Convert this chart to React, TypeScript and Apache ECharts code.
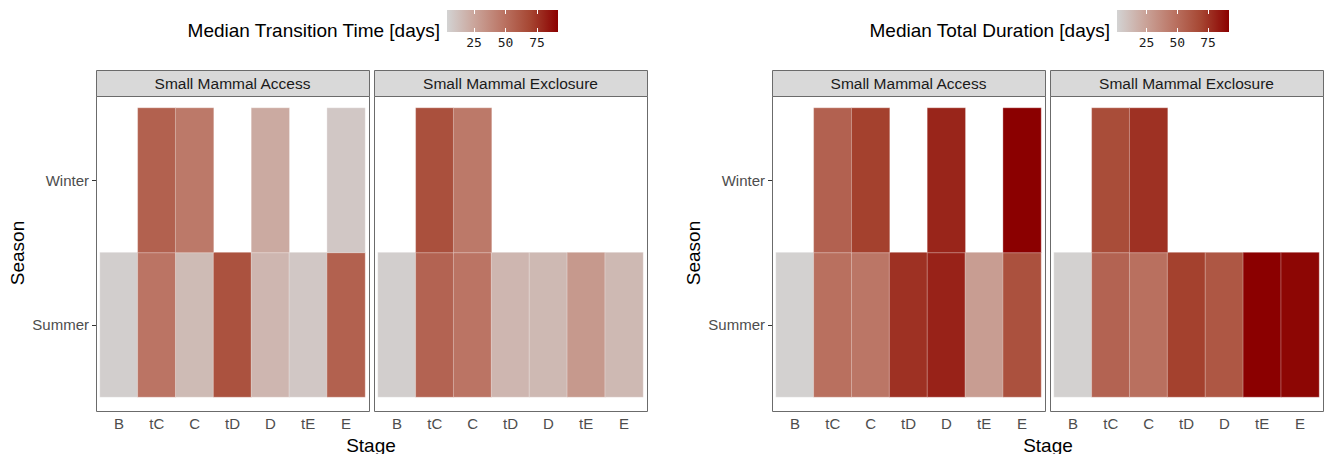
import React, { useEffect, useRef } from 'react';
import * as echarts from 'echarts';

// ---------- data ----------
const stages = ['B', 'tC', 'C', 'tD', 'D', 'tE', 'E'];
const seasons = ['Summer', 'Winter'];

// Median Transition Time [days]
const transAccessSummer = [6, 48, 15, 64, 17, 9, 57];
const transAccessWinter = [null, 57, 46, null, 23, null, 9];
const transExclSummer = [6, 56, 48, 17, 16, 31, 16];
const transExclWinter = [null, 65, 46, null, null, null, null];

// Median Total Duration [days]
const durAccessSummer = [2, 49, 46, 76, 81, 27, 64];
const durAccessWinter = [null, 56, 71, null, 80, null, 92];
const durExclSummer = [2, 55, 49, 71, 61, 92, 90];
const durExclWinter = [null, 66, 76, null, null, null, null];

const transRange = [3.6, 91.7];
const durRange = [1, 92];
const legendTicks = [25, 50, 75];
const scaleColors = ['#D3D3D3', '#CAA49A', '#BB7565', '#A64632', '#8B0000'];

const facetNames = ['Small Mammal Access', 'Small Mammal Exclosure'];
const legendTitles = ['Median Transition Time [days]', 'Median Total Duration [days]'];

const FONT = 'Liberation Sans, Arial, Helvetica, sans-serif';

function toCells(summer: (number | null)[], winter: (number | null)[]) {
  const out: number[][] = [];
  summer.forEach((v, i) => { if (v != null) out.push([i, 0, v]); });
  winter.forEach((v, i) => { if (v != null) out.push([i, 1, v]); });
  return out;
}

const panels = [
  { cells: toCells(transAccessSummer, transAccessWinter), left: 100, facet: 0, first: true },
  { cells: toCells(transExclSummer, transExclWinter), left: 378, facet: 1, first: false },
  { cells: toCells(durAccessSummer, durAccessWinter), left: 776, facet: 0, first: true },
  { cells: toCells(durExclSummer, durExclWinter), left: 1054, facet: 1, first: false },
];

const TILE_W = 265;
const TILE_TOP = 108;
const TILE_H = 289;
const PAD_X = 4;
const PAD_TOP = 12;
const PAD_BOTTOM = 14;

const legends = [
  { left: 447, width: 111, range: transRange, titleRight: 440, title: legendTitles[0] },
  { left: 1117, width: 112, range: durRange, titleRight: 1110, title: legendTitles[1] },
];

export default function App() {
  const ref = useRef<HTMLDivElement>(null);

  useEffect(() => {
    if (!ref.current) return;
    const chart = echarts.init(ref.current, null, { renderer: 'svg' });

    const grids: any[] = [];
    const xAxes: any[] = [];
    const yAxes: any[] = [];
    const series: any[] = [];
    const graphics: any[] = [];

    panels.forEach((p, i) => {
      grids.push({ left: p.left, top: TILE_TOP, width: TILE_W, height: TILE_H, containLabel: false });
      const panelX = p.left - PAD_X;
      const panelY = TILE_TOP - PAD_TOP;
      const panelW = TILE_W + 2 * PAD_X;
      const panelH = TILE_H + PAD_TOP + PAD_BOTTOM;
      xAxes.push({
        type: 'category', gridIndex: i, data: stages, position: 'bottom', offset: PAD_BOTTOM,
        axisLine: { show: false },
        axisTick: { alignWithLabel: true, length: 4, lineStyle: { color: '#333', width: 1 } },
        axisLabel: { color: '#4d4d4d', fontSize: 15, margin: 5, fontFamily: FONT },
        splitLine: { show: false },
      });
      xAxes.push({
        type: 'category', gridIndex: i, data: stages, position: 'top', offset: PAD_TOP,
        axisLine: { show: false },
        axisTick: { alignWithLabel: true, inside: true, length: panelH, lineStyle: { color: '#b0b0b0', type: 'dotted', width: 0.7 } },
        axisLabel: { show: false },
        splitLine: { show: false },
      });
      yAxes.push({
        type: 'category', gridIndex: i, data: seasons, position: 'left', offset: PAD_X,
        axisLine: { show: false },
        axisTick: { show: p.first, alignWithLabel: true, length: 4, lineStyle: { color: '#333', width: 1 } },
        axisLabel: { show: p.first, color: '#4d4d4d', fontSize: 15, margin: 7, fontFamily: FONT },
        splitLine: { show: false },
      });
      yAxes.push({
        type: 'category', gridIndex: i, data: seasons, position: 'right', offset: PAD_X,
        axisLine: { show: false },
        axisTick: { alignWithLabel: true, inside: true, length: panelW, lineStyle: { color: '#b0b0b0', type: 'dotted', width: 0.7 } },
        axisLabel: { show: false },
        splitLine: { show: false },
      });
      series.push({
        type: 'heatmap', xAxisIndex: 2 * i, yAxisIndex: 2 * i, data: p.cells,
        itemStyle: { borderColor: 'rgba(255,255,255,0.45)', borderWidth: 0.7 },
        emphasis: { disabled: true },
        z: 2,
      });
      graphics.push({
        type: 'rect', z: 20,
        shape: { x: panelX + 0.5, y: panelY + 0.5, width: panelW, height: panelH },
        style: { fill: 'none', stroke: '#6b6b6b', lineWidth: 1 },
      });
      graphics.push({
        type: 'rect', z: 20,
        shape: { x: panelX + 0.5, y: panelY - 26 + 0.5, width: panelW, height: 26 },
        style: { fill: '#d9d9d9', stroke: '#6b6b6b', lineWidth: 1 },
      });
      graphics.push({
        type: 'text', z: 21,
        x: panelX + panelW / 2, y: panelY - 13,
        style: { text: facetNames[p.facet], fill: '#1a1a1a', font: `15.5px ${FONT}`, align: 'center', verticalAlign: 'middle' },
      });
    });

    legends.forEach((lg, k) => {
      const gi = panels.length + k;
      grids.push({ left: lg.left, top: 10, width: lg.width, height: 22 });
      xAxes.push({
        type: 'value', gridIndex: gi, min: lg.range[0], max: lg.range[1], position: 'bottom', z: 10,
        axisLine: { show: false },
        axisTick: { customValues: legendTicks, inside: true, length: 4, lineStyle: { color: '#ffffff', width: 1 } },
        axisLabel: { customValues: legendTicks, color: '#1a1a1a', fontSize: 13, margin: 4, fontFamily: 'DejaVu Sans Mono, monospace' },
        splitLine: { show: false },
      });
      xAxes.push({
        type: 'value', gridIndex: gi, min: lg.range[0], max: lg.range[1], position: 'top', z: 10,
        axisLine: { show: false },
        axisTick: { customValues: legendTicks, inside: true, length: 4, lineStyle: { color: '#ffffff', width: 1 } },
        axisLabel: { show: false },
        splitLine: { show: false },
      });
      yAxes.push({ type: 'value', gridIndex: gi, show: false });
      graphics.push({
        type: 'rect', z: -1,
        shape: { x: lg.left, y: 10, width: lg.width, height: 22 },
        style: {
          fill: new echarts.graphic.LinearGradient(0, 0, 1, 0,
            scaleColors.map((c, j) => ({ offset: j / (scaleColors.length - 1), color: c }))),
        },
      });
      graphics.push({
        type: 'text', x: lg.titleRight, y: 30,
        style: { text: lg.title, fill: '#000', font: `19px ${FONT}`, align: 'right', verticalAlign: 'middle' },
      });
    });

    const axisTitles = [
      { season: 17, stage: 371 },
      { season: 693, stage: 1048 },
    ];
    axisTitles.forEach((t) => {
      graphics.push({
        type: 'text', x: t.season, y: 253, rotation: Math.PI / 2,
        style: { text: 'Season', fill: '#000', font: `19px ${FONT}`, align: 'center', verticalAlign: 'middle' },
      });
      graphics.push({
        type: 'text', x: t.stage, y: 445,
        style: { text: 'Stage', fill: '#000', font: `19px ${FONT}`, align: 'center', verticalAlign: 'middle' },
      });
    });

    chart.setOption({
      animation: false,
      backgroundColor: '#ffffff',
      textStyle: { fontFamily: FONT },
      grid: grids,
      xAxis: xAxes,
      yAxis: yAxes,
      visualMap: [
        { type: 'continuous', show: false, seriesIndex: [0, 1], dimension: 2, min: transRange[0], max: transRange[1], inRange: { color: scaleColors } },
        { type: 'continuous', show: false, seriesIndex: [2, 3], dimension: 2, min: durRange[0], max: durRange[1], inRange: { color: scaleColors } },
      ],
      series,
      graphic: graphics,
    });

    return () => chart.dispose();
  }, []);

  return (
    <div
      ref={ref}
      style={{ position: 'fixed', left: 0, top: 0, width: 1325, height: 454, background: '#fff' }}
    />
  );
}
